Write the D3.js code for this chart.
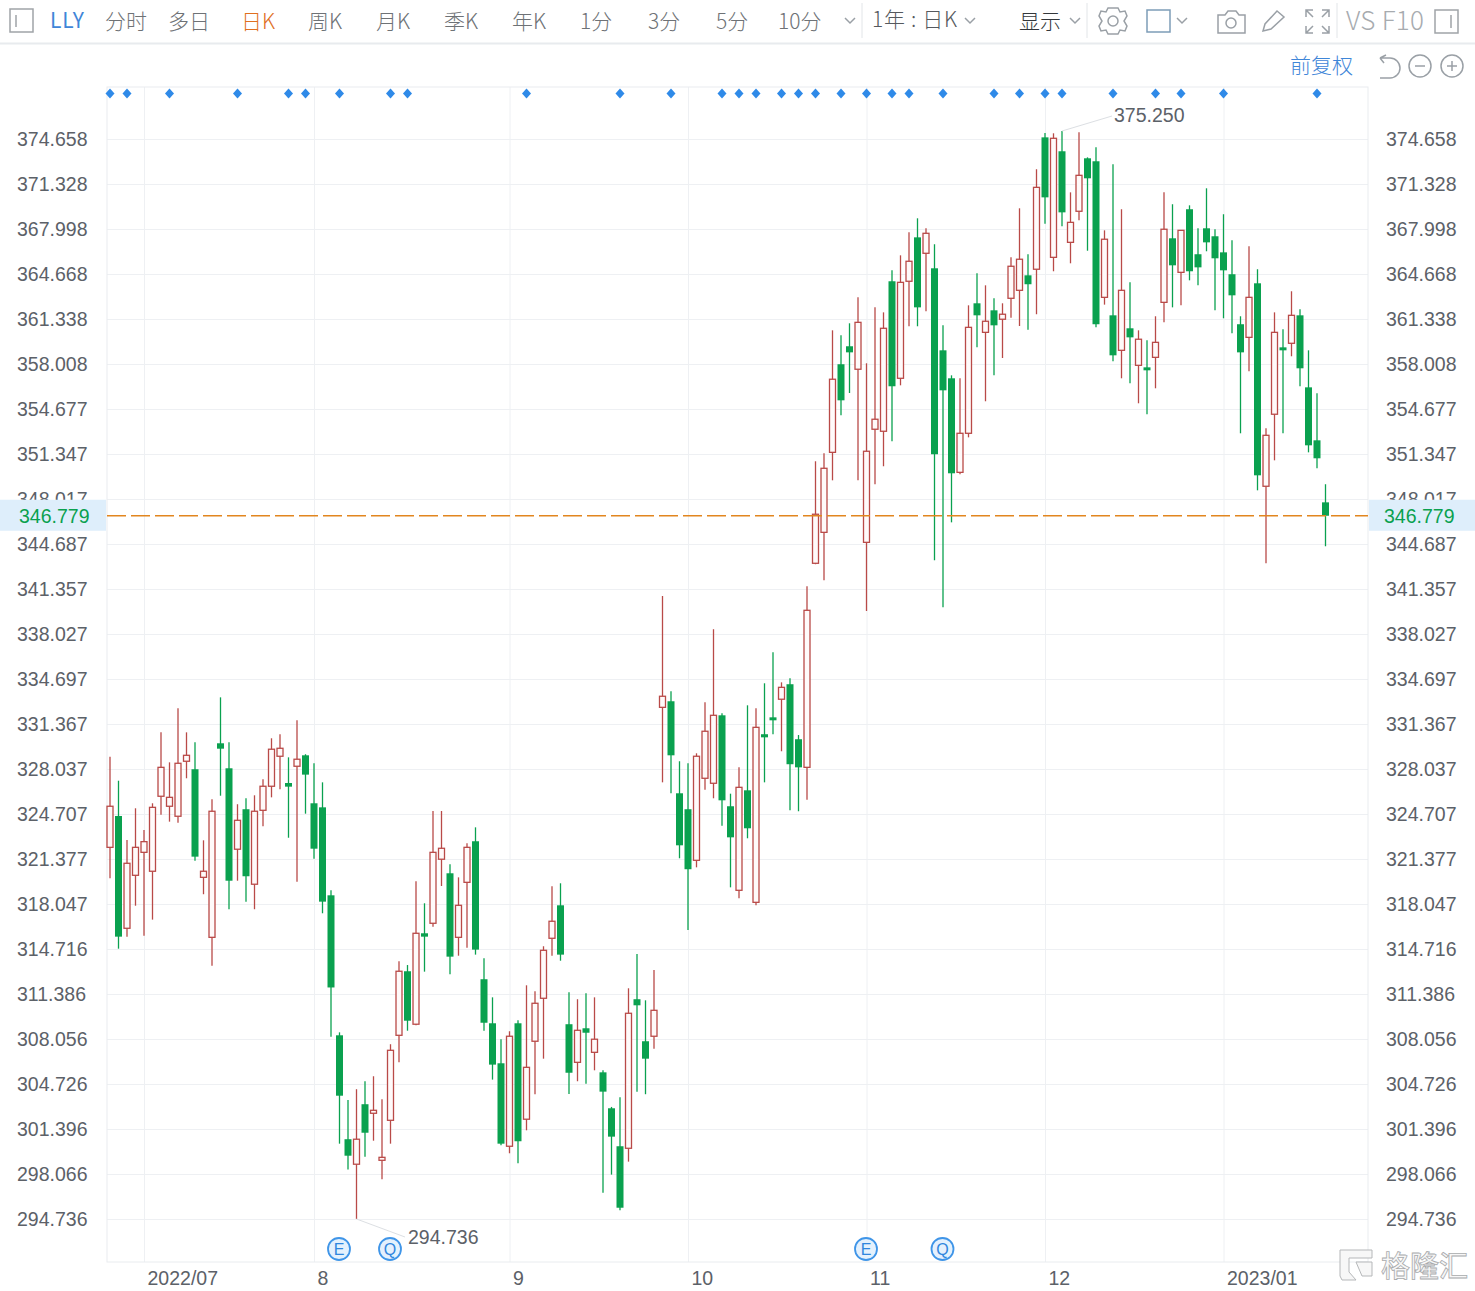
<!DOCTYPE html>
<html>
<head>
<meta charset="utf-8">
<script src="https://d3js.org/d3.v7.min.js"></script>
<style>
  html, body { margin: 0; padding: 0; background: #fff; }
  text { font-family: "Liberation Sans", Arial, sans-serif; }
  .cjk { font-family: "Noto Sans CJK SC", "Noto Sans", sans-serif; font-weight: 300; }
</style>
</head>
<body>
<div id="chart"></div>
<script>
// daily candles
const highs = [
  328.95,327.17,322.78,325.13,323.52,325.50,330.75,328.53,332.53,330.75,
  330.01,322.76,325.80,333.34,330.01,325.43,325.87,326.09,327.28,330.31,
  330.61,328.90,331.64,329.13,328.46,327.05,319.06,308.55,303.54,304.34,
  304.93,305.30,303.60,307.67,313.81,313.53,319.73,318.10,324.93,324.93,
  320.99,320.02,322.54,323.72,314.03,311.14,308.04,308.63,309.44,312.03,
  311.59,314.92,319.36,319.58,311.51,311.00,311.44,311.14,305.74,303.03,
  303.74,311.81,314.35,310.92,313.16,340.84,333.79,328.61,328.46,329.20,
  332.97,338.38,332.16,326.21,328.16,332.75,332.53,334.38,336.67,334.45,
  334.75,330.55,341.56,350.81,351.40,360.50,360.13,361.02,362.94,358.06,
  362.20,361.83,364.94,366.05,367.75,368.79,368.05,366.87,360.87,357.17,
  356.95,362.35,364.72,363.83,362.87,362.50,365.90,369.53,366.13,372.42,
  375.10,375.08,375.25,370.71,375.15,373.30,374.04,367.90,372.79,369.46,
  364.05,360.50,359.76,361.54,370.71,369.83,367.90,369.75,368.05,371.01,
  367.98,369.09,367.16,361.54,366.72,365.02,353.25,361.83,360.58,363.39,
  362.06,359.02,355.84,349.11
];
const lows = [
  319.95,314.74,315.63,317.92,315.70,316.89,324.66,324.14,324.06,327.35,
  321.25,318.77,313.48,326.06,317.66,319.77,318.22,317.66,323.80,325.94,
  326.54,322.95,319.70,324.73,321.40,317.36,308.23,300.31,298.39,294.736,
  299.35,300.53,297.68,300.31,306.33,308.67,309.07,313.04,316.37,319.38,
  312.85,314.22,314.81,314.30,308.67,305.05,300.19,299.60,298.86,301.30,
  303.97,306.60,314.22,313.85,303.99,304.93,304.75,305.74,296.68,298.02,
  295.38,298.98,304.16,303.97,307.34,327.05,326.24,321.43,316.12,320.76,
  326.51,325.87,323.84,319.28,318.47,322.91,317.95,327.05,330.61,329.35,
  324.98,324.91,325.77,343.19,342.00,349.40,354.21,355.86,349.40,339.73,
  349.11,350.44,352.29,356.43,360.80,360.80,361.91,343.48,340.00,346.29,
  349.85,352.58,359.24,355.25,357.17,358.45,361.43,360.82,360.55,361.69,
  368.39,364.87,368.20,365.46,368.64,366.39,360.72,362.40,358.21,356.95,
  356.58,355.10,354.29,356.21,361.09,362.20,362.35,364.20,363.83,366.35,
  361.98,361.39,360.28,352.88,357.47,348.66,343.26,350.88,352.88,358.58,
  356.36,351.47,350.29,344.52
];
const opens = [
  322.24,324.56,316.25,320.17,321.87,320.47,326.02,325.28,324.54,328.61,
  328.02,320.02,315.58,329.94,328.09,322.10,325.06,319.51,324.98,326.76,
  328.98,327.00,328.24,329.05,325.50,325.20,318.69,308.33,300.64,298.79,
  303.23,302.56,299.08,302.04,308.33,313.07,309.15,315.88,316.62,321.36,
  320.32,315.58,319.65,322.69,312.48,309.22,306.26,300.12,309.22,302.12,
  307.89,311.07,315.51,317.95,309.15,306.33,308.85,307.07,305.59,302.93,
  300.12,299.97,311.00,307.89,308.26,332.60,333.05,326.24,325.06,321.28,
  327.35,326.98,332.01,325.28,319.06,326.46,318.17,330.61,331.86,333.20,
  334.31,330.24,328.16,343.26,345.55,351.47,357.99,359.32,357.62,344.81,
  353.18,353.03,364.13,356.95,364.13,367.38,366.20,365.09,359.02,356.95,
  349.99,352.88,362.50,360.35,361.98,361.32,362.87,363.46,364.57,365.02,
  374.78,365.90,373.75,367.01,369.31,373.23,373.01,362.94,361.61,359.02,
  360.65,357.91,357.76,358.50,362.57,367.31,364.79,369.46,366.13,368.05,
  367.46,366.27,364.65,360.95,359.98,363.98,348.96,354.29,359.24,359.54,
  361.61,356.28,352.36,347.77
];
const closes = [
  325.28,315.63,321.06,322.24,322.66,325.20,328.16,325.94,328.46,329.05,
  321.55,320.47,324.91,329.54,319.77,324.24,320.10,324.91,326.76,329.50,
  329.57,326.73,328.76,327.62,322.14,318.22,311.87,303.86,299.42,300.64,
  301.12,302.78,299.30,307.22,313.07,309.41,315.88,315.63,321.87,322.17,
  314.15,317.95,322.24,314.67,309.26,306.16,300.31,308.26,300.49,305.96,
  310.70,314.62,316.77,314.30,305.56,308.70,308.52,308.04,304.16,300.83,
  295.57,309.96,310.55,306.60,310.18,333.42,329.05,322.39,320.62,328.98,
  330.83,332.01,325.72,322.98,326.68,323.65,331.12,330.38,331.64,334.08,
  328.39,328.16,339.78,346.89,350.29,356.88,355.32,358.87,361.09,351.55,
  353.92,360.65,356.36,364.05,365.61,362.20,367.68,351.33,356.06,349.92,
  352.88,360.72,361.61,361.17,360.87,361.69,365.24,365.76,363.91,371.08,
  370.34,374.71,369.23,368.49,371.97,371.75,360.95,367.24,358.65,363.46,
  359.98,359.84,357.54,359.61,367.98,365.31,367.90,364.87,365.16,367.01,
  365.83,364.94,363.09,358.87,362.94,349.77,352.73,360.35,359.02,361.61,
  357.69,351.99,351.03,346.779
];

const priceTicks = [
  374.658,371.328,367.998,364.668,361.338,358.008,354.677,351.347,348.017,
  344.687,341.357,338.027,334.697,331.367,328.037,324.707,321.377,318.047,
  314.716,311.386,308.056,304.726,301.396,298.066,294.736
];
const monthIndex = [4, 24, 47, 68, 89, 110, 131];
const monthLabels = ['2022/07', '8', '9', '10', '11', '12', '2023/01'];

// blue news diamonds along the top, and the E / Q event badges
const newsIndex = [0,2,7,15,21,23,27,33,35,49,60,66,72,74,76,79,81,83,86,89,92,94,98,104,107,110,112,118,123,126,131,142];
const eventIndex = [27, 33, 89, 98];
const eventLabels = ['E', 'Q', 'E', 'Q'];

const lastPrice = 346.779;
const maxPrice = 375.25;
const minPrice = 294.736;

const toolbarLabels = ['分时', '多日', '日K', '周K', '月K', '季K', '年K', '1分', '3分', '5分', '10分'];
const toolbarX = [105, 168, 241, 308, 376, 444, 512, 580, 648, 716, 778];

const WIDTH = 1475;
const HEIGHT = 1291;
const PLOT_LEFT = 107;
const PLOT_RIGHT = 1368;
const PLOT_TOP = 87;
const PLOT_BOTTOM = 1262;

const UP = '#b94a48';
const DOWN = '#0aa14f';
const GRID = '#eef0f3';
const LABEL = '#5c6168';
const ICON = '#9aa0a6';
const BLUE = '#3f86d8';

const svg = d3.select('#chart')
    .append('svg')
    .attr('width', WIDTH)
    .attr('height', HEIGHT)
    .style('display', 'block');

// Scales
const xScale = d3.scaleLinear()
    .domain([0, highs.length - 1])
    .range([110, 1325.5]);

const yScale = d3.scaleLinear()
    .domain([294.736, 374.658])
    .range([1219, 139]);

// Grid + axes
const yGrid = d3.axisRight(yScale)
    .tickValues(priceTicks)
    .tickSize(PLOT_RIGHT - PLOT_LEFT)
    .tickFormat('');
svg.append('g')
    .attr('class', 'y-grid')
    .attr('transform', `translate(${PLOT_LEFT}, 0)`)
    .call(yGrid)
    .call(g => g.select('.domain').remove())
    .call(g => g.selectAll('line').attr('stroke', GRID));

const xAxis = d3.axisBottom(xScale)
    .tickValues(monthIndex)
    .tickSize(-(PLOT_BOTTOM - PLOT_TOP))
    .tickFormat((d, i) => monthLabels[i]);
svg.append('g')
    .attr('class', 'x-axis')
    .attr('transform', `translate(0, ${PLOT_BOTTOM})`)
    .call(xAxis)
    .call(g => g.select('.domain').remove())
    .call(g => g.selectAll('line').attr('stroke', GRID))
    .call(g => g.selectAll('text')
        .attr('text-anchor', 'start')
        .attr('x', 3)
        .attr('y', 9)
        .attr('fill', LABEL)
        .style('font-size', '19.5px'));

// plot frame
svg.append('rect')
    .attr('x', PLOT_LEFT)
    .attr('y', PLOT_TOP)
    .attr('width', PLOT_RIGHT - PLOT_LEFT)
    .attr('height', PLOT_BOTTOM - PLOT_TOP)
    .attr('fill', 'none')
    .attr('stroke', '#e9ecef');

const yAxisLeft = d3.axisLeft(yScale)
    .tickValues(priceTicks)
    .tickSize(0)
    .tickFormat(d3.format('.3f'));
svg.append('g')
    .attr('class', 'y-axis')
    .attr('transform', `translate(${PLOT_LEFT}, 0)`)
    .call(yAxisLeft)
    .call(g => g.select('.domain').remove())
    .call(g => g.selectAll('text')
        .attr('text-anchor', 'start')
        .attr('x', -90)
        .attr('fill', LABEL)
        .style('font-size', '19.5px'));

const yAxisRight = d3.axisRight(yScale)
    .tickValues(priceTicks)
    .tickSize(0)
    .tickFormat(d3.format('.3f'));
svg.append('g')
    .attr('class', 'y-axis')
    .attr('transform', `translate(${PLOT_RIGHT}, 0)`)
    .call(yAxisRight)
    .call(g => g.select('.domain').remove())
    .call(g => g.selectAll('text')
        .attr('text-anchor', 'start')
        .attr('x', 18)
        .attr('fill', LABEL)
        .style('font-size', '19.5px'));

// Candles
const candles = svg.append('g')
    .selectAll('g')
    .data(d3.range(highs.length))
    .enter()
    .append('g');

candles.append('line')
    .attr('x1', i => xScale(i))
    .attr('x2', i => xScale(i))
    .attr('y1', i => yScale(highs[i]))
    .attr('y2', i => yScale(lows[i]))
    .attr('stroke', i => closes[i] >= opens[i] ? UP : DOWN)
    .attr('stroke-width', 1.3);

candles.append('rect')
    .attr('x', i => xScale(i) - (closes[i] >= opens[i] ? 3 : 3.5))
    .attr('width', i => closes[i] >= opens[i] ? 6 : 7)
    .attr('y', i => yScale(Math.max(opens[i], closes[i])))
    .attr('height', i => Math.abs(yScale(opens[i]) - yScale(closes[i])))
    .attr('fill', i => closes[i] >= opens[i] ? '#fffafa' : DOWN)
    .attr('stroke', i => closes[i] >= opens[i] ? UP : 'none')
    .attr('stroke-width', 1.3);

// News diamonds
svg.append('g')
    .selectAll('path')
    .data(newsIndex)
    .enter()
    .append('path')
    .attr('d', 'M0,-5L4.5,0L0,5L-4.5,0Z')
    .attr('transform', d => `translate(${xScale(d)}, 93.5)`)
    .attr('fill', '#2f8ae8');

// Event badges
const badges = svg.append('g')
    .selectAll('g')
    .data(eventIndex)
    .enter()
    .append('g')
    .attr('transform', d => `translate(${xScale(d) - 0.5}, 1249)`);
badges.append('circle')
    .attr('r', 11)
    .attr('fill', '#e4f1fd')
    .attr('stroke', '#3f95e8')
    .attr('stroke-width', 1.8);
badges.append('text')
    .attr('text-anchor', 'middle')
    .attr('y', 6)
    .attr('fill', '#2f86de')
    .style('font-size', '16px')
    .text((d, i) => eventLabels[i]);

// High / low leaders
svg.append('line')
    .attr('x1', xScale(112)).attr('y1', yScale(maxPrice))
    .attr('x2', 1112).attr('y2', 116)
    .attr('stroke', '#dcdfe3');
svg.append('text')
    .attr('x', 1114).attr('y', 122)
    .attr('fill', LABEL)
    .style('font-size', '19.5px')
    .text(d3.format('.3f')(maxPrice));
svg.append('line')
    .attr('x1', xScale(29)).attr('y1', yScale(minPrice))
    .attr('x2', 405).attr('y2', 1237)
    .attr('stroke', '#dcdfe3');
svg.append('text')
    .attr('x', 408).attr('y', 1244)
    .attr('fill', LABEL)
    .style('font-size', '19.5px')
    .text(d3.format('.3f')(minPrice));

// Last price line and its two tags
svg.append('line')
    .attr('x1', PLOT_LEFT)
    .attr('x2', PLOT_RIGHT)
    .attr('y1', yScale(lastPrice))
    .attr('y2', yScale(lastPrice))
    .attr('stroke', '#e2861f')
    .attr('stroke-width', 1.4)
    .attr('stroke-dasharray', '19,5');

[[0, PLOT_LEFT - 1, 19], [PLOT_RIGHT + 1, WIDTH - PLOT_RIGHT - 1, 1384]].forEach(([x, w, tx]) => {
    svg.append('rect')
        .attr('x', x)
        .attr('y', yScale(lastPrice) - 16)
        .attr('width', w)
        .attr('height', 31)
        .attr('fill', '#deeefb');
    svg.append('text')
        .attr('x', tx)
        .attr('y', yScale(lastPrice) + 7)
        .attr('fill', DOWN)
        .style('font-size', '19.5px')
        .text(d3.format('.3f')(lastPrice));
});

// Toolbar
const bar = svg.append('g').attr('class', 'toolbar');
bar.append('line')
    .attr('x1', 0).attr('x2', WIDTH)
    .attr('y1', 43.5).attr('y2', 43.5)
    .attr('stroke', '#e8ebee')
    .attr('stroke-width', 2);

bar.append('text')
    .attr('class', 'cjk')
    .attr('x', 50).attr('y', 28)
    .attr('fill', BLUE)
    .style('font-size', '21px')
    .style('font-weight', 400)
    .attr('textLength', 34)
    .text('LLY');

bar.selectAll('.tab')
    .data(toolbarLabels)
    .enter()
    .append('text')
    .attr('class', 'tab cjk')
    .attr('x', (d, i) => toolbarX[i])
    .attr('y', 29)
    .attr('fill', d => d === '日K' ? '#e0701f' : '#6e7276')
    .style('font-size', '21px')
    .text(d => d);

bar.append('text')
    .attr('class', 'cjk')
    .attr('x', 872).attr('y', 27)
    .attr('fill', '#55595e')
    .style('font-size', '21px')
    .attr('textLength', 85)
    .text('1年 : 日K');
bar.append('text')
    .attr('class', 'cjk')
    .attr('x', 1019).attr('y', 29)
    .attr('fill', '#33373b')
    .style('font-size', '21px')
    .text('显示');
bar.append('text')
    .attr('class', 'cjk')
    .attr('x', 1346).attr('y', 30)
    .attr('fill', '#a7abaf')
    .style('font-size', '26px')
    .attr('textLength', 78)
    .text('VS F10');
bar.append('text')
    .attr('class', 'cjk')
    .attr('x', 1290).attr('y', 73)
    .attr('fill', BLUE)
    .style('font-size', '21px')
    .text('前复权');

const icon = s => bar.append('path')
    .attr('d', s)
    .attr('fill', 'none')
    .attr('stroke', ICON)
    .attr('stroke-width', 1.5);

// little chevrons
[850, 970, 1075, 1182].forEach(x => icon(`M${x - 5},18 L${x},23 L${x + 5},18`));
// separators
[862, 1087, 1337].forEach(x => bar.append('line')
    .attr('x1', x).attr('x2', x).attr('y1', 3).attr('y2', 38)
    .attr('stroke', '#e2e5e8'));
// panel toggles
icon('M10,9 H33 V32 H10 Z M16,15 V27').attr('stroke', '#a0a4a8');
icon('M1435,10 H1458 V33 H1435 Z M1451,15 V28').attr('stroke', '#a0a4a8');
// gear
icon('M1108,8 H1118 L1120,12 L1125,11 L1127,16 L1124,21 L1127,26 L1125,31 L1120,30 L1118,34 H1108 L1106,30 L1101,31 L1099,26 L1102,21 L1099,16 L1101,11 L1106,12 Z');
bar.append('circle').attr('cx', 1113).attr('cy', 21).attr('r', 5)
    .attr('fill', 'none').attr('stroke', ICON).attr('stroke-width', 1.5);
// colour box
icon('M1147,10 H1170 V32 H1147 Z').attr('stroke', '#7d9db8');
// camera
icon('M1218,15 H1225 L1228,11 H1236 L1239,15 H1245 V33 H1218 Z');
bar.append('circle').attr('cx', 1231).attr('cy', 23).attr('r', 5)
    .attr('fill', 'none').attr('stroke', ICON).attr('stroke-width', 1.5);
// pencil
icon('M1263,31 L1265,24 L1277,11 L1284,17 L1271,29 Z');
// full screen corners
icon('M1306,17 V10 H1313 M1306,10 L1313,17 M1322,10 H1329 V17 M1329,10 L1322,17 M1329,26 V33 H1322 M1329,33 L1322,26 M1313,33 H1306 V26 M1306,33 L1313,26');
// undo, minus, plus
icon('M1380,58 H1390 A10,10 0 0 1 1390,78 H1380 M1380,58 L1386,55 M1380,58 L1384,63');
icon('M1409,66 a11,11 0 1 0 22,0 a11,11 0 1 0 -22,0 M1415,66 H1425');
icon('M1441,66 a11,11 0 1 0 22,0 a11,11 0 1 0 -22,0 M1447,66 H1457 M1452,61 V71');

// Watermark
const mark = svg.append('g').attr('class', 'watermark');
mark.append('path')
    .attr('d', 'M1340,1250 H1372 V1258 H1349 V1272 L1356,1280 H1342 L1340,1276 Z M1356,1262 H1372 V1276 L1362,1276 Z')
    .attr('fill', '#f7f7f7')
    .attr('stroke', '#b5b7b9')
    .attr('stroke-width', 1);
mark.append('text')
    .attr('class', 'cjk')
    .attr('x', 1381).attr('y', 1277)
    .attr('fill', '#f7f7f7')
    .attr('stroke', '#a9abad')
    .attr('stroke-width', 0.8)
    .style('font-size', '29px')
    .style('font-weight', 500)
    .text('格隆汇');
</script>
</body>
</html>
